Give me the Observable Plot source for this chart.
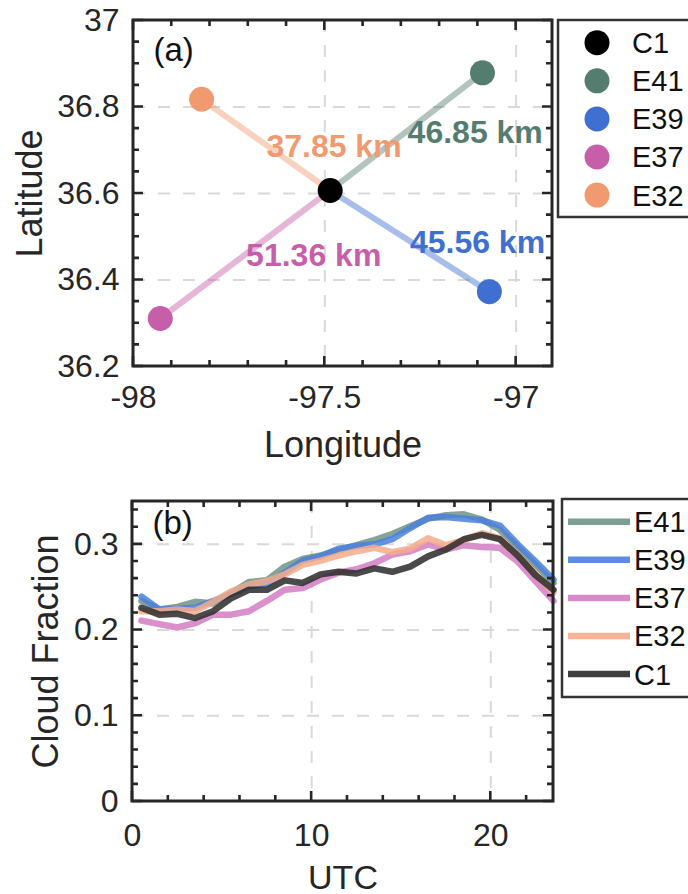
<!DOCTYPE html>
<html><head><meta charset="utf-8">
<script src="https://cdn.jsdelivr.net/npm/d3@7"></script>
<script src="https://cdn.jsdelivr.net/npm/@observablehq/plot@0.6"></script>
<style>
body{margin:0;background:#fff;}
#wrap{width:688px;height:894px;position:relative;overflow:hidden;background:#fff;}
#wrap svg{display:block;}
</style></head><body><div id="wrap"></div>
<script>
// ---------- Panel (a): station map ----------
const stations = ["C1", "E41", "E39", "E37", "E32"];
const stationLon = [-97.486, -97.088, -97.070, -97.930, -97.822];
const stationLat = [36.607, 36.879, 36.373, 36.311, 36.818];
const stationColors = ["#000000", "#557d6f", "#3e6fd1", "#c65ea9", "#f19a70"];
const distLabels = ["", "46.85 km", "45.56 km", "51.36 km", "37.85 km"];
const distLabelLon = [null, -97.107, -97.101, -97.529, -97.476];
const distLabelLat = [null, 36.740, 36.486, 36.457, 36.709];

const aXMajor = [-98, -97.5, -97];
const aXMinor = [-97.9, -97.8, -97.7, -97.6, -97.4, -97.3, -97.2, -97.1];
const aYMajor = [36.2, 36.4, 36.6, 36.8, 37];
const aYMinor = [36.25, 36.3, 36.35, 36.45, 36.5, 36.55, 36.65, 36.7, 36.75, 36.85, 36.9, 36.95];
const aXGrid = [-97.5, -97];
const aYGrid = [36.4, 36.6, 36.8];

// ---------- Panel (b): diurnal cloud fraction ----------
const hours = [0.5, 1.5, 2.5, 3.5, 4.5, 5.5, 6.5, 7.5, 8.5, 9.5, 10.5, 11.5, 12.5, 13.5, 14.5, 15.5, 16.5, 17.5, 18.5, 19.5, 20.5, 21.5, 22.5, 23.5];
const cfE41 = [0.234, 0.224, 0.227, 0.233, 0.231, 0.243, 0.256, 0.258, 0.274, 0.283, 0.287, 0.293, 0.299, 0.305, 0.312, 0.321, 0.330, 0.334, 0.335, 0.329, 0.317, 0.297, 0.276, 0.255];
const cfE39 = [0.239, 0.224, 0.225, 0.226, 0.234, 0.242, 0.251, 0.254, 0.267, 0.281, 0.286, 0.295, 0.298, 0.300, 0.306, 0.319, 0.331, 0.332, 0.330, 0.328, 0.322, 0.300, 0.280, 0.259];
const cfE37 = [0.211, 0.207, 0.203, 0.208, 0.218, 0.218, 0.222, 0.234, 0.247, 0.249, 0.259, 0.267, 0.271, 0.278, 0.288, 0.292, 0.300, 0.294, 0.299, 0.297, 0.296, 0.280, 0.257, 0.234];
const cfE32 = [0.222, 0.222, 0.224, 0.222, 0.233, 0.245, 0.253, 0.257, 0.265, 0.276, 0.281, 0.287, 0.292, 0.296, 0.291, 0.295, 0.307, 0.299, 0.305, 0.313, 0.307, 0.288, 0.265, 0.244];
const cfC1  = [0.226, 0.218, 0.219, 0.214, 0.222, 0.237, 0.247, 0.247, 0.258, 0.255, 0.265, 0.268, 0.266, 0.272, 0.268, 0.274, 0.286, 0.294, 0.306, 0.311, 0.306, 0.287, 0.264, 0.247];
const seriesNames = ["E41", "E39", "E37", "E32", "C1"];
const seriesValues = [cfE41, cfE39, cfE37, cfE32, cfC1];
const seriesColors = ["#6f9486", "#4a80dd", "#d47cc2", "#f5ab8b", "#2a2a2a"];

const bXMajor = [0, 10, 20];
const bXMinor = [2, 4, 6, 8, 12, 14, 16, 18, 22];
const bYMajor = [0, 0.1, 0.2, 0.3];
const bYMinor = [0.02, 0.04, 0.06, 0.08, 0.12, 0.14, 0.16, 0.18, 0.22, 0.24, 0.26, 0.28, 0.32, 0.34];
const bXGrid = [10, 20];
const bYGrid = [0.1, 0.2, 0.3];

// ---------- shared styling ----------
const FONT = "'Liberation Sans', Arial, Helvetica, sans-serif";
const INK = "#262626";
const gridStyle = {stroke: "#d9d9d9", strokeOpacity: 1, strokeWidth: 2, strokeDasharray: "12,13"};

// inward ticks on all four sides, placed with the plot's own x and y scales
function addInwardTicks(svg, xMajor, xMinor, yMajor, yMinor) {
  const sx = svg.scale("x"), sy = svg.scale("y");
  const [xl, xr] = sx.range;
  const [yb, yt] = sy.range;
  let d = "";
  const xt = (vals, len) => vals.forEach(v => {
    const x = +sx.apply(v);
    d += `M${x},${yb}V${yb - len}M${x},${yt}V${yt + len}`;
  });
  const ytk = (vals, len) => vals.forEach(v => {
    const y = +sy.apply(v);
    d += `M${xl},${y}H${xl + len}M${xr},${y}H${xr - len}`;
  });
  xt(xMajor, 10); xt(xMinor, 6);
  ytk(yMajor, 10); ytk(yMinor, 6);
  const g = d3.select(svg).append("g");
  g.append("path").attr("d", d).attr("fill", "none").attr("stroke", INK).attr("stroke-width", 2.6);
  g.append("rect").attr("x", xl).attr("y", yt).attr("width", xr - xl).attr("height", yb - yt)
    .attr("fill", "none").attr("stroke", INK).attr("stroke-width", 3);
}

const wrap = document.getElementById("wrap");

// ---------- Panel (a) ----------
{
  const W = 688, H = 470, mL = 133, mR = 136, mT = 20, mB = 104;
  const xDom = [-98, -96.905], yDom = [36.2, 37];
  const pts = stations.map((s, i) => ({name: s, lon: stationLon[i], lat: stationLat[i], color: stationColors[i]}));
  const others = pts.slice(1);
  const c1 = pts[0];
  const labs = stations.map((s, i) => ({text: distLabels[i], lon: distLabelLon[i], lat: distLabelLat[i], color: stationColors[i]})).slice(1);

  const svg = Plot.plot({
    width: W, height: H,
    marginLeft: mL, marginRight: mR, marginTop: mT, marginBottom: mB,
    x: {domain: xDom},
    y: {domain: yDom},
    style: {fontFamily: FONT, color: INK, background: "white"},
    marks: [
      Plot.gridX(aXGrid, gridStyle),
      Plot.gridY(aYGrid, gridStyle),
      Plot.link(others, {x1: () => c1.lon, y1: () => c1.lat, x2: "lon", y2: "lat", stroke: d => d.color, strokeOpacity: 0.45, strokeWidth: 6}),
      Plot.dot(pts, {x: "lon", y: "lat", r: 12.5, fill: d => d.color, stroke: "none"}),
      Plot.text(labs, {x: "lon", y: "lat", text: "text", fill: d => d.color, fontWeight: "bold", fontSize: 32}),
      Plot.text(["(a)"], {frameAnchor: "top-left", dx: 20, dy: 30, textAnchor: "start", lineAnchor: "middle", fontSize: 33, fill: "#111"}),
      Plot.axisX({ticks: aXMajor, tickSize: 0, tickPadding: 19, fontSize: 32, label: null, tickFormat: d => String(d)}),
      Plot.axisY({ticks: aYMajor, tickSize: 0, tickPadding: 14, fontSize: 32, label: null, tickFormat: d => String(d)}),
      Plot.text(["Longitude"], {frameAnchor: "bottom", dy: 79, textAnchor: "middle", lineAnchor: "middle", fontSize: 36}),
      Plot.text(["Latitude"], {frameAnchor: "left", dx: -103, rotate: -90, textAnchor: "middle", lineAnchor: "middle", fontSize: 36})
    ]
  });
  addInwardTicks(svg, aXMajor, aXMinor, aYMajor, aYMinor);
  // legend (right of the frame)
  const g = d3.select(svg).append("g").attr("font-family", FONT).attr("text-anchor", "start");
  g.append("rect").attr("x", 558).attr("y", 20).attr("width", 150).attr("height", 197)
    .attr("fill", "white").attr("stroke", "#333").attr("stroke-width", 2.5);
  stations.forEach((s, i) => {
    const cy = 42.7 + 38.1 * i;
    g.append("circle").attr("cx", 597).attr("cy", cy).attr("r", 12.5).attr("fill", stationColors[i]);
    g.append("text").attr("x", 632).attr("y", cy).attr("dy", "0.36em").attr("font-size", 29)
      .attr("text-anchor", "start").attr("fill", "#111").text(s);
  });
  wrap.appendChild(svg);
}

// ---------- Panel (b) ----------
{
  const W = 688, H = 424, mL = 132, mR = 135, mT = 31, mB = 93;
  const xDom = [0, 23.5], yDom = [0, 0.35];
  const rows = [];
  seriesNames.forEach((s, k) => hours.forEach((h, i) => rows.push({series: s, hour: h, cf: seriesValues[k][i]})));

  const svg = Plot.plot({
    width: W, height: H,
    marginLeft: mL, marginRight: mR, marginTop: mT, marginBottom: mB,
    x: {domain: xDom},
    y: {domain: yDom},
    color: {domain: seriesNames, range: seriesColors},
    style: {fontFamily: FONT, color: INK, background: "white"},
    marks: [
      Plot.gridX(bXGrid, gridStyle),
      Plot.gridY(bYGrid, gridStyle),
      Plot.line(rows, {x: "hour", y: "cf", z: "series", stroke: "series", strokeWidth: 6.5, strokeOpacity: 0.85, strokeLinejoin: "round"}),
      Plot.text(["(b)"], {frameAnchor: "top-left", dx: 20, dy: 22, textAnchor: "start", lineAnchor: "middle", fontSize: 33, fill: "#111"}),
      Plot.axisX({ticks: bXMajor, tickSize: 0, tickPadding: 22, fontSize: 32, label: null, tickFormat: d => String(d)}),
      Plot.axisY({ticks: bYMajor, tickSize: 0, tickPadding: 14, fontSize: 32, label: null, tickFormat: d => String(d)}),
      Plot.text(["UTC"], {frameAnchor: "bottom", dy: 77, textAnchor: "middle", lineAnchor: "middle", fontSize: 34}),
      Plot.text(["Cloud Fraction"], {frameAnchor: "left", dx: -86, rotate: -90, textAnchor: "middle", lineAnchor: "middle", fontSize: 36})
    ]
  });
  addInwardTicks(svg, bXMajor, bXMinor, bYMajor, bYMinor);
  const g = d3.select(svg).append("g").attr("font-family", FONT).attr("text-anchor", "start");
  g.append("rect").attr("x", 562).attr("y", 29).attr("width", 150).attr("height", 198)
    .attr("fill", "white").attr("stroke", "#333").attr("stroke-width", 2.5);
  seriesNames.forEach((s, i) => {
    const cy = 51.7 + 38.1 * i;
    g.append("line").attr("x1", 568).attr("x2", 630).attr("y1", cy).attr("y2", cy)
      .attr("stroke", seriesColors[i]).attr("stroke-width", 6.5).attr("stroke-opacity", 0.9);
    g.append("text").attr("x", 634).attr("y", cy).attr("dy", "0.36em").attr("font-size", 29)
      .attr("text-anchor", "start").attr("fill", "#111").text(s);
  });
  wrap.appendChild(svg);
}
</script></body></html>
